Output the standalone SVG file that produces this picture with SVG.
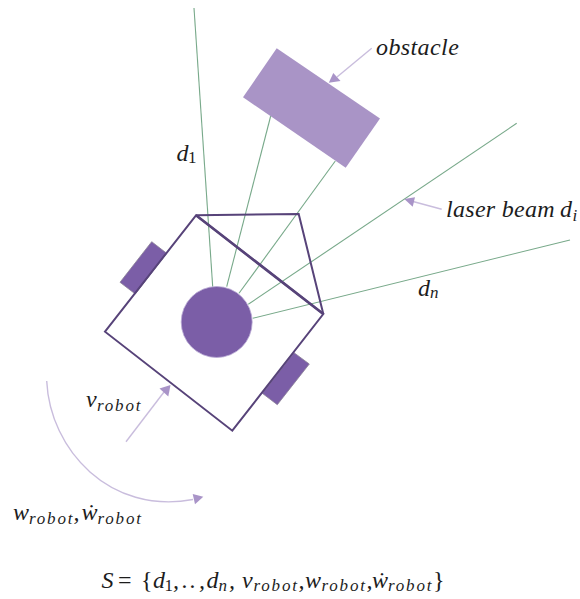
<svg xmlns="http://www.w3.org/2000/svg" width="580" height="599" viewBox="0 0 580 599">
<style>
text{font-family:"Liberation Serif","Times New Roman",serif;font-style:italic;fill:#1c1c1c;font-size:24px}
.s{font-size:17px;letter-spacing:1.8px}
.n{font-style:normal}
.beam{stroke:#78a98a;stroke-width:1.1;fill:none}
.hull{stroke:#574379;stroke-width:2;fill:none;stroke-linejoin:miter}
.wheel{fill:#7b5ea7;stroke:#8a8296;stroke-width:.8}
.lead{stroke:#c9bddd;stroke-width:1.4;fill:none}
.head{fill:#a994c8}
</style>
<rect width="580" height="599" fill="#fff"/>
<g id="connectors">
<path class="beam" d="M194 8L212.700 286.700"/>
<path class="beam" d="M270.700 116L226.700 286.700"/>
<path class="beam" d="M335.300 161L239 293.300"/>
<path class="beam" d="M516.700 123.300L248.300 304.300"/>
<path class="beam" d="M570 240L252.700 318.300"/>
<path class="lead" d="M371.700 48.300L337 77"/>
<polygon class="head" points="328.800,82.800 333.300,73 340.500,81"/>
<path class="lead" d="M441.700 209.300L413 201.500"/>
<polygon class="head" points="404.300,199 415,197.300 412.700,206.700"/>
<path class="lead" d="M126 441.700L164 392"/>
<polygon class="head" points="170.500,385 159.500,388.500 168.300,396.500"/>
<path class="lead" d="M46.700 381C50 450 110 515 193 499.500"/>
<polygon class="head" points="203.300,496.700 192.700,494 195,504.300"/>
</g>
<g id="obstacle-shape"><polygon points="276.700,48.300 380,118.500 345.700,167.700 243,97.300" fill="#a994c6"/></g>
<g id="robot">
<polygon class="wheel" points="151.700,241.700 166.700,253.300 135.300,294 120,282.300"/>
<polygon class="wheel" points="294,352.700 309.300,364 277.300,404.700 262.300,393.300"/>
<polygon class="hull" points="105,331.700 196,215.300 323.300,314 232.300,430.700"/>
<path class="hull" stroke-width="2.600" style="stroke-width:2.600px" d="M196 215.300L323.300 314"/>
<polyline class="hull" points="196,215.300 298.700,214 323.300,314"/>
<circle cx="216.700" cy="322" r="35.500" fill="#7b5ea7" stroke="#b9a9d4" stroke-width=".8"/>
</g>
<g id="label-obstacle"><text x="376" y="55" letter-spacing=".4">obstacle</text></g>
<g id="label-laser"><text x="446" y="216.700" letter-spacing=".3">laser beam <tspan x="560">d</tspan><tspan class="s" x="572.500" dy="4">i</tspan></text></g>
<g id="label-d1"><text x="176.500" y="161">d<tspan class="s n" dy="2" x="188">1</tspan></text></g>
<g id="label-dn"><text x="418" y="296">d<tspan class="s" dy="2" x="430">n</tspan></text></g>
<g id="label-v"><text x="86" y="406.700">v<tspan class="s" dy="4" x="97">robot</tspan></text></g>
<g id="label-w"><text x="13" y="520">w<tspan class="s" dy="4" x="29">robot</tspan><tspan dy="-4" x="73.500">,</tspan><tspan x="81.500">ẇ</tspan><tspan class="s" dy="4" x="97.500">robot</tspan></text></g>
<g id="label-state"><text x="101.500" y="588.300">S<tspan class="n" x="118">=</tspan><tspan class="n" x="141">{</tspan><tspan x="153">d</tspan><tspan class="s n" dy="3" x="164.500">1</tspan><tspan dy="-3" x="173">,</tspan><tspan x="182">.</tspan><tspan x="190">.</tspan><tspan x="199">,</tspan><tspan x="206.500">d</tspan><tspan class="s" dy="3" x="218.500">n</tspan><tspan dy="-3" x="229">,</tspan><tspan x="242">v</tspan><tspan class="s" dy="3" x="253.500">robot</tspan><tspan dy="-3" x="298.500">,</tspan><tspan x="305">w</tspan><tspan class="s" dy="3" x="321.500">robot</tspan><tspan dy="-3" x="366.500">,</tspan><tspan x="372">ẇ</tspan><tspan class="s" dy="3" x="388">robot</tspan><tspan class="n" dy="-3" x="433">}</tspan></text></g>
</svg>
